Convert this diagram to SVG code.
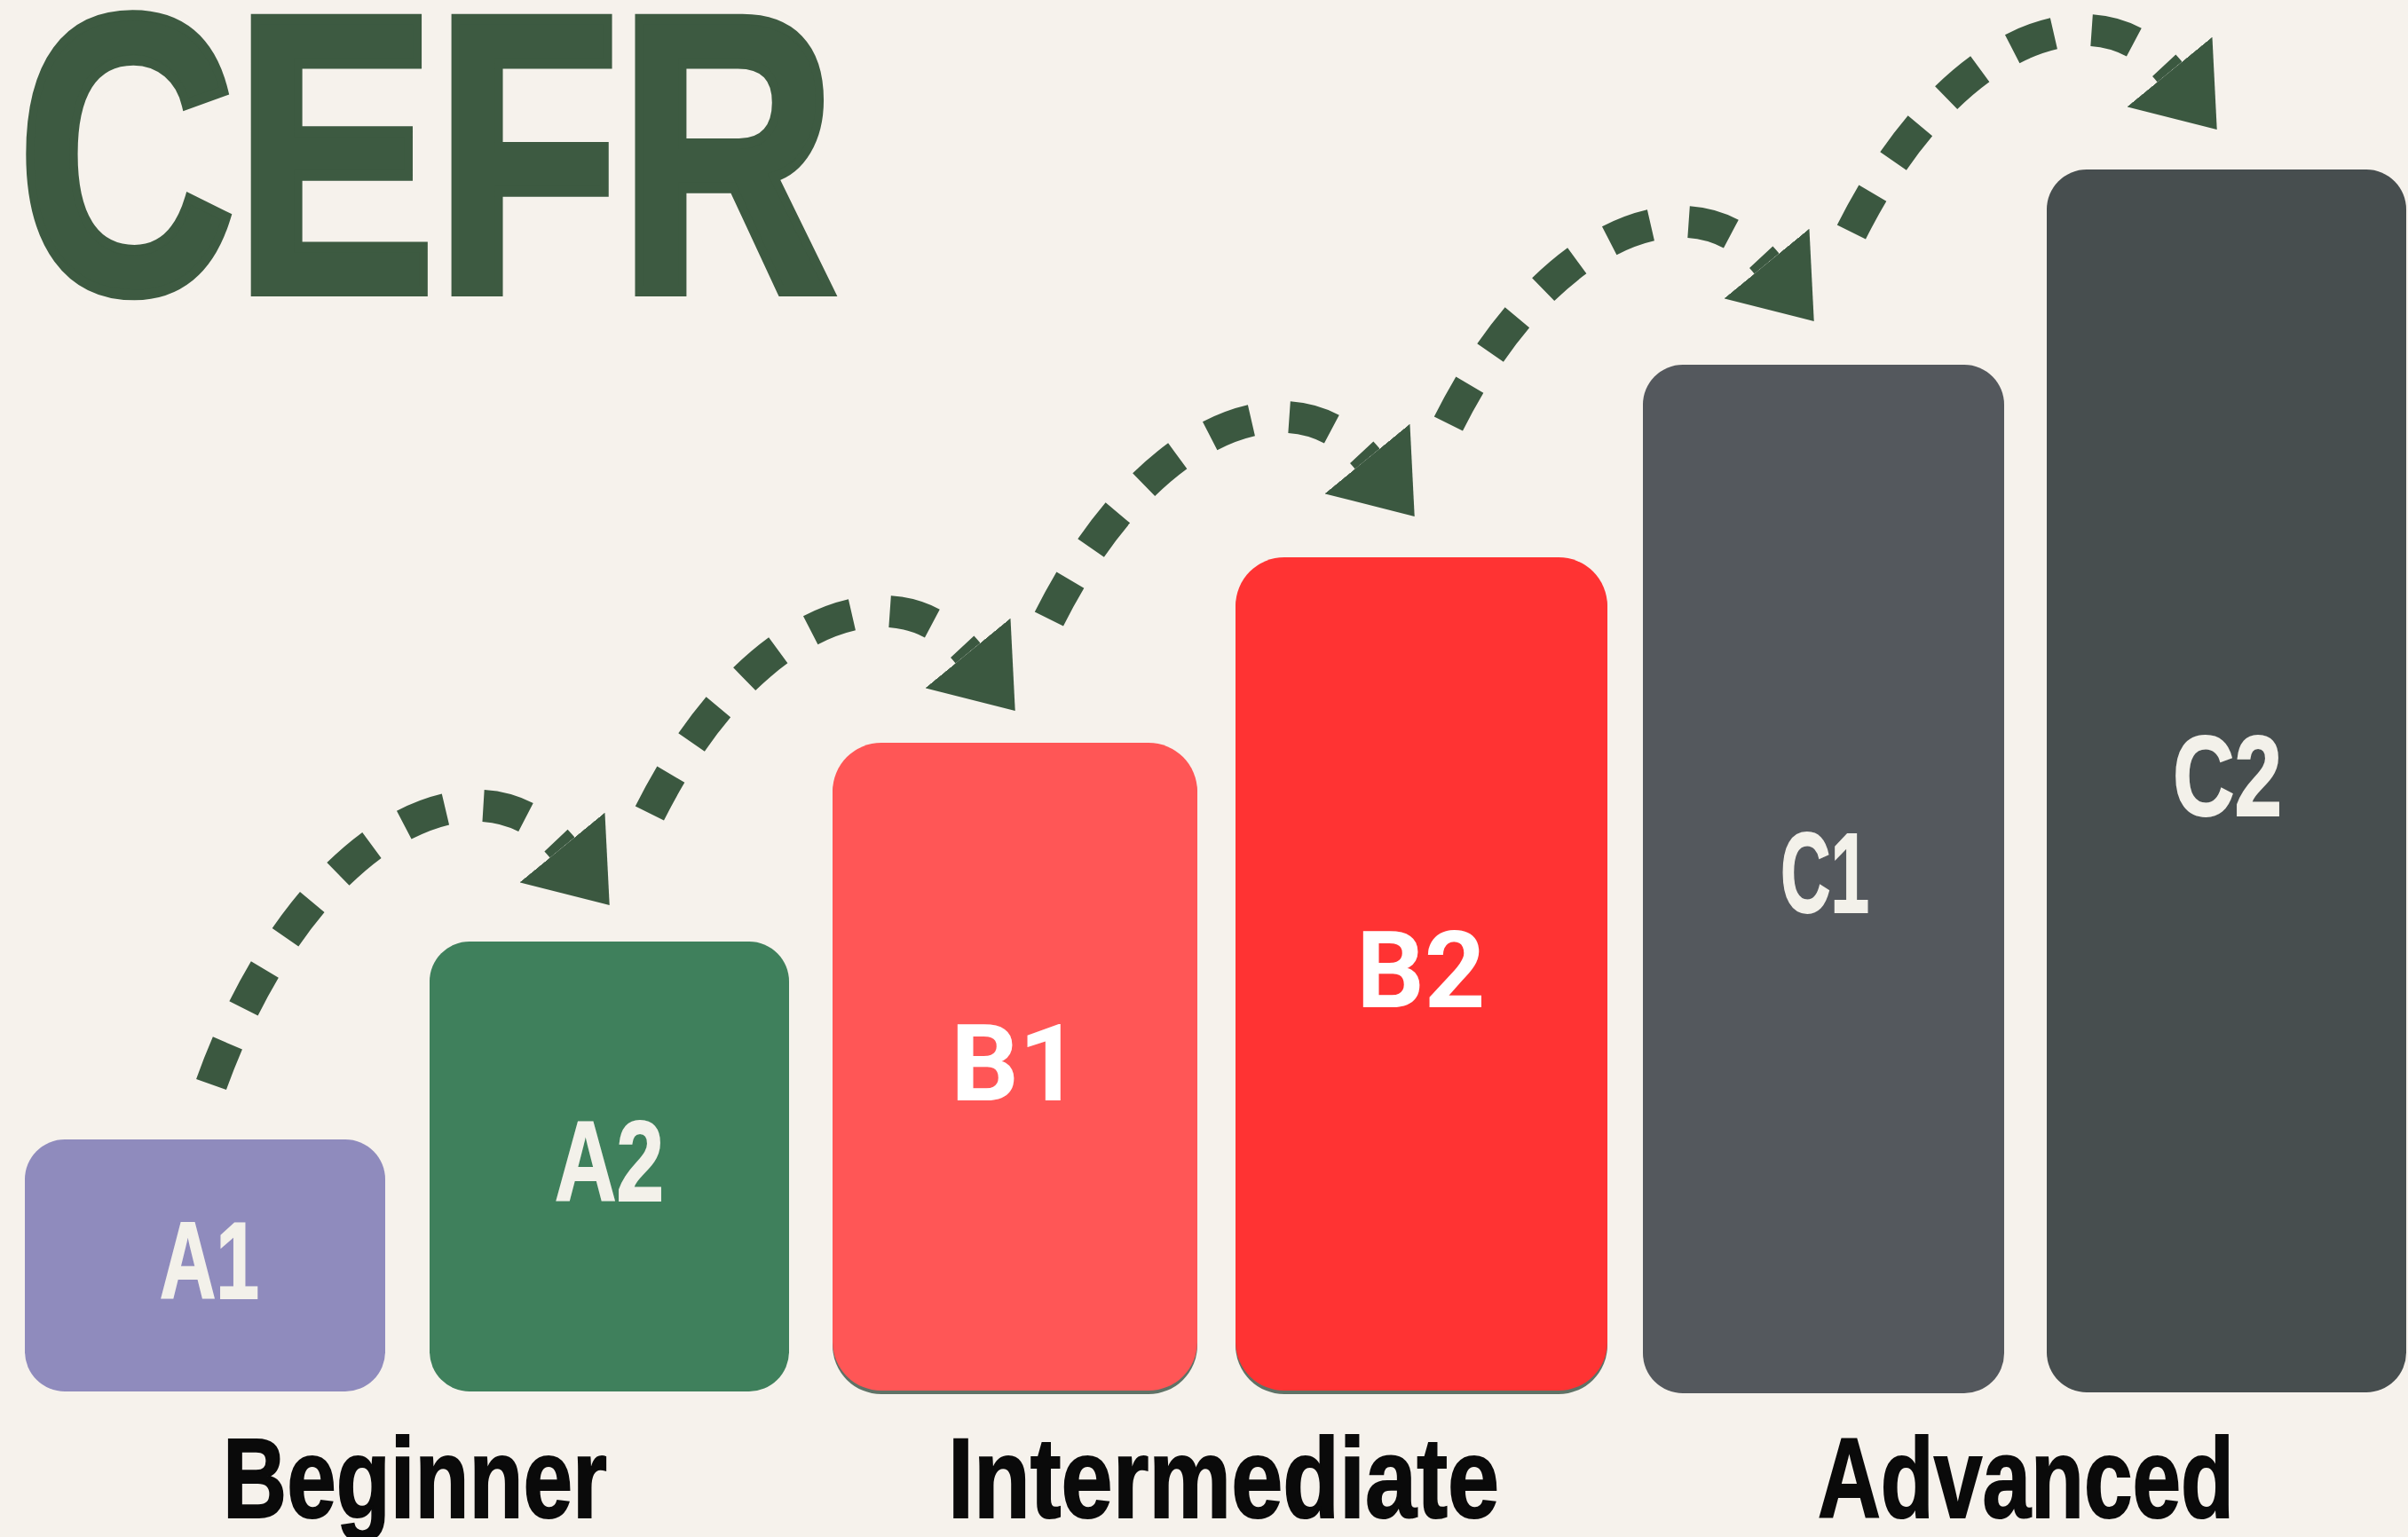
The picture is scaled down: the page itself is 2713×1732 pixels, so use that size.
<svg xmlns="http://www.w3.org/2000/svg" width="2713" height="1732" viewBox="0 0 2713 1732">
  <style>
    .title { font-family: "Liberation Sans Narrow", "Liberation Sans", Arial, sans-serif; font-weight: bold; fill: #3d5a41; stroke: #3d5a41; stroke-width: 12; stroke-linejoin: miter; }
    .cat { font-family: "Liberation Sans Narrow", "Liberation Sans", Arial, sans-serif; font-weight: bold; font-size: 128px; fill: #0a0a0a; stroke: #0a0a0a; stroke-width: 2; }
    .lvl { font-family: "Liberation Sans Narrow", "Liberation Sans", Arial, sans-serif; font-weight: bold; fill: #f3f1ea; stroke: #f3f1ea; stroke-width: 2; }
    .lvlb { font-family: Roboto, "Liberation Sans", Arial, sans-serif; font-weight: bold; font-size: 120px; fill: #ffffff; text-anchor: middle; }
    .arrow { fill: none; stroke: #3b5840; stroke-width: 36; stroke-dasharray: 50 43; stroke-linecap: butt; }
  </style>
  <defs>
    <marker id="head" markerUnits="userSpaceOnUse" viewBox="0 -62 84 124" markerWidth="84" markerHeight="124" refX="0" refY="0" orient="auto">
      <path d="M0,-62 L84,0 L0,62 Z" fill="#3b5840"/>
    </marker>
  </defs>
  <rect x="0" y="0" width="2713" height="1732" fill="#f6f2ec"/>

  <g id="title">
    <text class="title" x="20" y="328" font-size="445" textLength="922" lengthAdjust="spacingAndGlyphs">CEFR</text>
  </g>

  <g id="A1">
    <rect x="28" y="1284" width="406" height="284" rx="45" fill="#8f8bbd"/>
    <text class="lvl" x="180" y="1463" font-size="123" textLength="112" lengthAdjust="spacingAndGlyphs">A1</text>
  </g>
  <g id="A2">
    <rect x="484" y="1061" width="405" height="507" rx="45" fill="#3f805c"/>
    <text class="lvl" x="625" y="1353" font-size="128" textLength="123" lengthAdjust="spacingAndGlyphs">A2</text>
  </g>
  <g id="B1">
    <rect x="938" y="841" width="411" height="730" rx="55" fill="#5f7266"/>
    <rect x="938" y="837" width="411" height="730" rx="55" fill="#ff5656"/>
    <text class="lvlb" x="1144" y="1240">B1</text>
  </g>
  <g id="B2">
    <rect x="1392" y="632" width="419" height="939" rx="55" fill="#5f7266"/>
    <rect x="1392" y="628" width="419" height="939" rx="55" fill="#ff3333"/>
    <text class="lvlb" x="1601" y="1135">B2</text>
  </g>
  <g id="C1">
    <rect x="1851" y="411" width="407" height="1159" rx="45" fill="#54585d"/>
    <text class="lvl" x="2006" y="1028" font-size="128" textLength="100" lengthAdjust="spacingAndGlyphs">C1</text>
  </g>
  <g id="C2">
    <rect x="2306" y="191" width="405" height="1378" rx="45" fill="#474e4f"/>
    <text class="lvl" x="2448" y="919" font-size="128" textLength="123" lengthAdjust="spacingAndGlyphs">C2</text>
  </g>

  <g id="categories">
    <text class="cat" x="251" y="1710" textLength="433" lengthAdjust="spacingAndGlyphs">Beginner</text>
    <text class="cat" x="1068" y="1710" textLength="621" lengthAdjust="spacingAndGlyphs">Intermediate</text>
    <text class="cat" x="2048" y="1710" textLength="469" lengthAdjust="spacingAndGlyphs">Advanced</text>
  </g>

  <g id="connectors">
    <path class="arrow" marker-end="url(#head)" d="M238 1222 C340 940 538.5 839 633.5 955"/>
    <path class="arrow" marker-end="url(#head)" transform="translate(457,-219)" d="M274.9 1135.56 C382.42 920.42 548.95 851.76 633.5 955"/>
    <path class="arrow" marker-end="url(#head)" transform="translate(907,-438)" d="M274.9 1135.56 C382.42 920.42 548.95 851.76 633.5 955"/>
    <path class="arrow" marker-end="url(#head)" transform="translate(1357,-658)" d="M274.9 1135.56 C382.42 920.42 548.95 851.76 633.5 955"/>
    <path class="arrow" marker-end="url(#head)" transform="translate(1811,-874)" d="M274.9 1135.56 C382.42 920.42 548.95 851.76 633.5 955"/>
  </g>
</svg>
